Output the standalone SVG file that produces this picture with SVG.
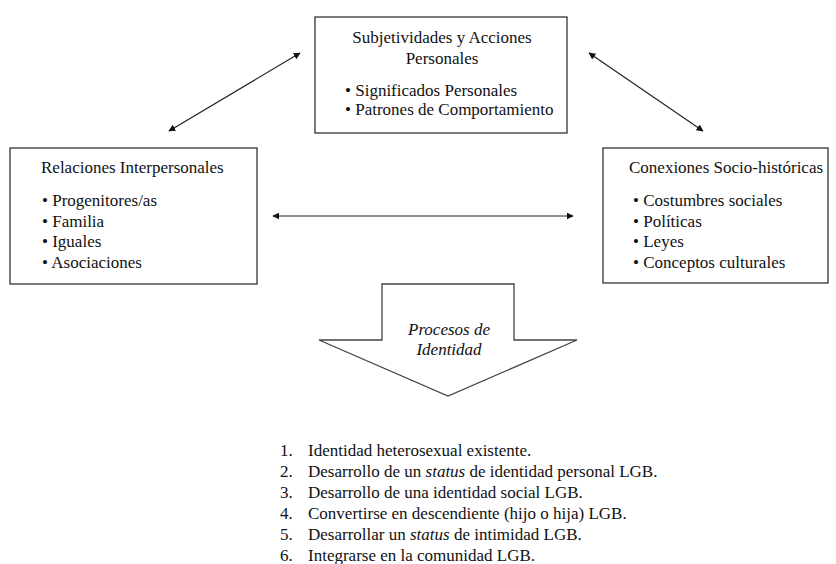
<svg xmlns="http://www.w3.org/2000/svg" width="836" height="564" viewBox="0 0 836 564">
  <style>
    .box { fill: #ffffff; stroke: #333333; stroke-width: 1.3; }
    .txt { font-family: "Liberation Serif", Tinos, "Times New Roman", "DejaVu Serif", serif; font-size: 17px; fill: #111111; }
    .mid { text-anchor: middle; }
    .it { font-style: italic; }
    .link { stroke: #222222; stroke-width: 1.2; fill: none; marker-start: url(#tip); marker-end: url(#tip); }
    .shape { fill: #ffffff; stroke: #444444; stroke-width: 1.3; stroke-linejoin: miter; }
  </style>
  <defs>
    <marker id="tip" viewBox="0 0 10 10" refX="9" refY="5" markerWidth="7" markerHeight="7" markerUnits="userSpaceOnUse" orient="auto-start-reverse">
      <path d="M0,0 L10,5 L0,10 Z" fill="#111111"/>
    </marker>
  </defs>
  <rect width="836" height="564" fill="#ffffff"/>

  <!-- two-way connectors between the three boxes -->
  <g id="connectors">
    <line class="link" x1="169" y1="131" x2="300" y2="53"/>
    <line class="link" x1="589" y1="53" x2="703" y2="131"/>
    <line class="link" x1="273" y1="216" x2="573" y2="216"/>
  </g>

  <g id="subjetividades">
    <rect class="box" x="315" y="17" width="252" height="116"/>
    <text class="txt mid" x="442" y="43">Subjetividades y Acciones</text>
    <text class="txt mid" x="442" y="64">Personales</text>
    <text class="txt" x="345" y="96">• Significados Personales</text>
    <text class="txt" x="345" y="115">• Patrones de Comportamiento</text>
  </g>

  <g id="relaciones">
    <rect class="box" x="10" y="148" width="247" height="136"/>
    <text class="txt" x="41" y="173">Relaciones Interpersonales</text>
    <text class="txt" x="42" y="206">• Progenitores/as</text>
    <text class="txt" x="42" y="227">• Familia</text>
    <text class="txt" x="42" y="247">• Iguales</text>
    <text class="txt" x="42" y="268">• Asociaciones</text>
  </g>

  <g id="conexiones">
    <rect class="box" x="603" y="148" width="225" height="135"/>
    <text class="txt" x="629" y="173">Conexiones Socio-históricas</text>
    <text class="txt" x="633" y="206">• Costumbres sociales</text>
    <text class="txt" x="633" y="227">• Políticas</text>
    <text class="txt" x="633" y="247">• Leyes</text>
    <text class="txt" x="633" y="268">• Conceptos culturales</text>
  </g>

  <g id="procesos">
    <path class="shape" d="M382,284 L514,284 L514,340 L577,340 L448,396 L319,340 L382,340 Z"/>
    <text class="txt mid it" x="449" y="335">Procesos de</text>
    <text class="txt mid it" x="449" y="355">Identidad</text>
  </g>

  <g id="etapas">
    <text class="txt" x="280" y="456">1.</text>
    <text class="txt" x="308" y="456">Identidad heterosexual existente.</text>
    <text class="txt" x="280" y="477">2.</text>
    <text class="txt" x="308" y="477">Desarrollo de un <tspan class="it">status</tspan> de identidad personal LGB.</text>
    <text class="txt" x="280" y="498">3.</text>
    <text class="txt" x="308" y="498">Desarrollo de una identidad social LGB.</text>
    <text class="txt" x="280" y="519">4.</text>
    <text class="txt" x="308" y="519">Convertirse en descendiente (hijo o hija) LGB.</text>
    <text class="txt" x="280" y="540">5.</text>
    <text class="txt" x="308" y="540">Desarrollar un <tspan class="it">status</tspan> de intimidad LGB.</text>
    <text class="txt" x="280" y="561">6.</text>
    <text class="txt" x="308" y="561">Integrarse en la comunidad LGB.</text>
  </g>
</svg>
